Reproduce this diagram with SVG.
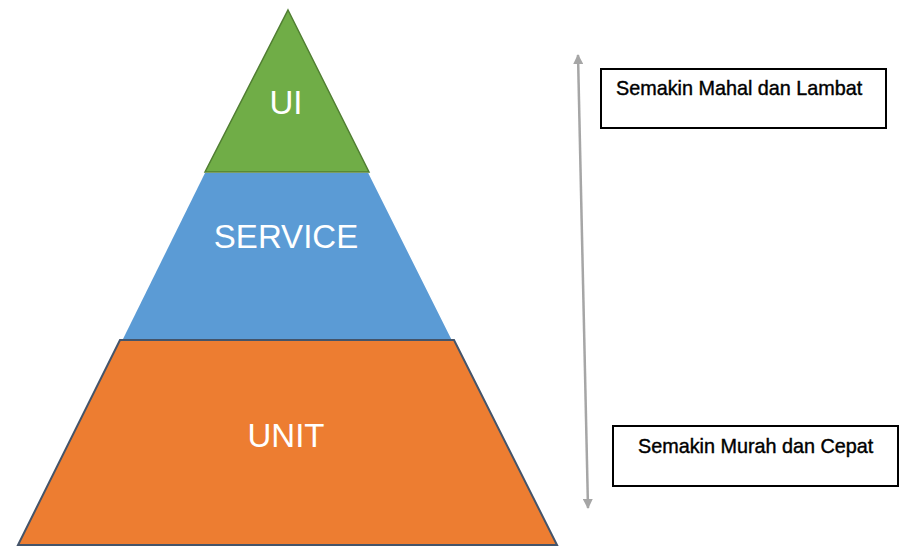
<svg xmlns="http://www.w3.org/2000/svg" width="905" height="555" viewBox="0 0 905 555">
<style>
.lbl{font-family:"Liberation Sans",Arial,sans-serif;fill:#ffffff;text-anchor:middle}
.note{font-family:"Liberation Sans",Arial,sans-serif;fill:#000000;stroke:#000000;stroke-width:0.4;font-size:19.8px}
.box{fill:#ffffff;stroke:#000000;stroke-width:2}
</style>
<defs>
<marker id="ah" viewBox="0 0 10 10" refX="9" refY="5" markerWidth="4" markerHeight="4" orient="auto-start-reverse">
<path d="M0,0 L10,5 L0,10 z" fill="#a6a6a6"/>
</marker>
</defs>
<rect width="905" height="555" fill="#ffffff"/>
<g id="service">
<polygon points="205,173 369,173 452,339 123,339" fill="#5b9bd5"/>
<line x1="369" y1="173" x2="452" y2="339" stroke="#ffffff" stroke-width="1.5"/>
<text class="lbl" x="286" y="248" font-size="33">SERVICE</text>
</g>
<g id="ui">
<polygon points="288,10 369,172 205,172" fill="#70ad47" stroke="#507e32" stroke-width="1.5"/>
<text class="lbl" x="286" y="114" font-size="33">UI</text>
</g>
<g id="unit">
<polygon points="120,340 454,340 557,545 18,545" fill="#ed7d31" stroke="#44546a" stroke-width="2"/>
<text class="lbl" x="286" y="447" font-size="33">UNIT</text>
</g>
<g id="connectors">
<line x1="578" y1="55" x2="588" y2="508" stroke="#a6a6a6" stroke-width="2.5" marker-start="url(#ah)" marker-end="url(#ah)"/>
</g>
<g id="note-top">
<rect class="box" x="601" y="69" width="285" height="59"/>
<text class="note" x="616" y="95">Semakin Mahal dan Lambat</text>
</g>
<g id="note-bottom">
<rect class="box" x="613" y="426" width="285" height="60"/>
<text class="note" x="638" y="453">Semakin Murah dan Cepat</text>
</g>
</svg>
